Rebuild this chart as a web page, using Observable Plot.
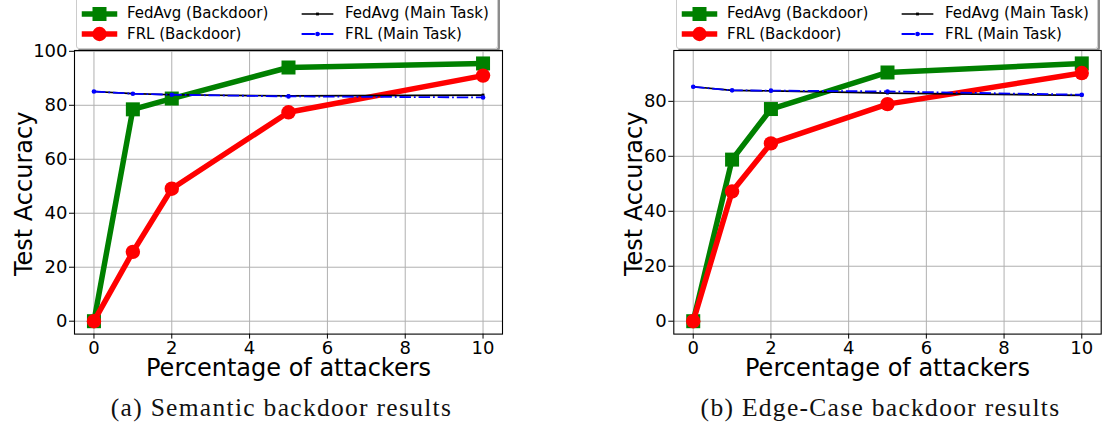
<!DOCTYPE html>
<html>
<head>
<meta charset="utf-8">
<script src="https://cdn.jsdelivr.net/npm/d3@7"></script>
<script src="https://cdn.jsdelivr.net/npm/@observablehq/plot@0.6"></script>
<style>
  html, body { margin: 0; padding: 0; background: #fff; }
  #root { position: relative; width: 1102px; height: 425px; overflow: hidden; font-family: "DejaVu Sans", sans-serif; }
  .panel { position: absolute; top: 0; }
  .legend { position: absolute; top: -10px; height: 59px; background: rgba(255,255,255,0.9);
            border: 1px solid #cccccc; border-radius: 3px; box-shadow: 2px 2px 0 rgba(0,0,0,0.45); box-sizing: border-box; }
  .lg-text { position: absolute; font-family: "DejaVu Sans", sans-serif; font-size: 15px; line-height: 20px; white-space: nowrap; color: #000; }
  .lg-sw { position: absolute; }
  .caption { position: absolute; top: 393px; font-family: "Liberation Serif", serif; font-size: 25.5px; line-height: 30px;
             letter-spacing: 1.3px; white-space: nowrap; transform: translateX(-50%); color: #111; }
</style>
</head>
<body>
<div id="root"></div>
<script>
// ---- data ----
const attackers = [0, 1, 2, 5, 10];
const xTicks = [0, 2, 4, 6, 8, 10];

// (a) Semantic backdoor
const semFedAvgBackdoor = [0, 78.5, 82.5, 94.0, 95.5];
const semFrlBackdoor    = [0, 25.7, 49.1, 77.4, 91.0];
const semFedAvgMain     = [85.1, 84.3, 83.9, 83.5, 83.8];
const semFrlMain        = [85.1, 84.3, 83.9, 83.3, 82.9];
const semYTicks = [0, 20, 40, 60, 80, 100];

// (b) Edge-case backdoor
const edgeFedAvgBackdoor = [0, 58.8, 77.2, 90.5, 93.8];
const edgeFrlBackdoor    = [0, 47.2, 64.7, 79.0, 90.3];
const edgeFedAvgMain     = [85.3, 84.0, 83.8, 83.0, 82.2];
const edgeFrlMain        = [85.3, 84.0, 83.9, 83.6, 82.4];
const edgeYTicks = [0, 20, 40, 60, 80];

const seriesNames = ["FedAvg (Backdoor)", "FRL (Backdoor)", "FedAvg (Main Task)", "FRL (Main Task)"];
const captions = ["(a) Semantic backdoor results", "(b) Edge-Case backdoor results"];
const xLabel = "Percentage of attackers";
const yLabel = "Test Accuracy";

// ---- styles ----
const styles = [
  {color: "green",   width: 5.5, symbol: "square", r: 7.9, dash: null},
  {color: "#ff0000", width: 5.5, symbol: "circle", r: 7.2, dash: null},
  {color: "#000000", width: 1.7, symbol: "square", r: 1.6, dash: null},
  {color: "#0000ff", width: 1.8, symbol: "circle", r: 2.3, dash: "11.5,2.9,1.8,2.9"}
];

const rows = arr => attackers.map((x, i) => ({x, y: arr[i]}));

function panel(cfg) {
  const marks = [
    Plot.gridX(xTicks, {stroke: "#b0b0b0", strokeOpacity: 1, strokeWidth: 1}),
    Plot.gridY(cfg.yTicks, {stroke: "#b0b0b0", strokeOpacity: 1, strokeWidth: 1}),
    Plot.axisX({ticks: xTicks, tickSize: 5, tickPadding: 2, fontSize: 18, label: null}),
    Plot.axisY({ticks: cfg.yTicks, tickSize: 5, tickPadding: 2, fontSize: 18, label: null})
  ];
  cfg.series.forEach((arr, i) => {
    const s = styles[i];
    const d = rows(arr);
    marks.push(Plot.line(d, {x: "x", y: "y", stroke: s.color, strokeWidth: s.width,
      strokeDasharray: s.dash, strokeLinejoin: "round", strokeLinecap: "butt"}));
    marks.push(Plot.dot(d, {x: "x", y: "y", symbol: s.symbol, r: s.r, fill: s.color, stroke: "none"}));
  });
  marks.push(Plot.frame({stroke: "#000", strokeWidth: 1.1}));
  marks.push(Plot.text([xLabel], {frameAnchor: "bottom", dy: 34.5, textAnchor: "middle", lineAnchor: "middle", fontSize: 24, fill: "#000"}));
  marks.push(Plot.text([yLabel], {frameAnchor: "left", dx: cfg.yLabelDx, dy: 1.5, rotate: -90, textAnchor: "middle", lineAnchor: "middle", fontSize: 24, fill: "#000"}));
  return Plot.plot({
    width: cfg.width,
    height: 385,
    marginLeft: cfg.marginLeft,
    marginRight: cfg.marginRight,
    marginTop: 50,
    marginBottom: 51.4,
    style: {fontFamily: "DejaVu Sans", fontSize: "18px", color: "#000", background: "transparent", overflow: "visible"},
    x: {domain: [-0.5, 10.5], axis: null},
    y: {domain: cfg.yDomain, axis: null},
    marks
  });
}

function legend(root, boxLeft, boxWidth) {
  const box = document.createElement("div");
  box.className = "legend";
  box.style.left = boxLeft + "px";
  box.style.width = boxWidth + "px";
  root.appendChild(box);
  const order = [[0,0],[0,1],[1,0],[1,1]]; // [col,row] for series 0..3
  const swLeft = [4, 222], txtLeft = [51, 269], rowY = [23.5, 44.3];
  seriesNames.forEach((name, i) => {
    const [c, r] = order[i];
    const s = styles[i];
    const sw = document.createElementNS("http://www.w3.org/2000/svg", "svg");
    sw.setAttribute("width", 40); sw.setAttribute("height", 20);
    sw.setAttribute("class", "lg-sw");
    sw.style.left = (swLeft[c] - 1) + "px";
    sw.style.top = (rowY[r] - 10 - 1) + "px";
    let html = `<line x1="4.5" x2="34.5" y1="10" y2="10" stroke="${s.color}" stroke-width="${s.width}" stroke-linecap="square"${s.dash ? ` stroke-dasharray="${s.dash}"` : ""}/>`;
    if (s.symbol === "square") {
      const a = s.r * Math.sqrt(Math.PI);
      html += `<rect x="${19.5 - a/2}" y="${10 - a/2}" width="${a}" height="${a}" fill="${s.color}"/>`;
    } else {
      html += `<circle cx="19.5" cy="10" r="${s.r}" fill="${s.color}"/>`;
    }
    sw.innerHTML = html;
    box.appendChild(sw);
    const t = document.createElement("div");
    t.className = "lg-text";
    t.textContent = name;
    t.style.left = (txtLeft[c] - 1) + "px";
    t.style.top = (rowY[r] - 10 - 1.2) + "px";
    box.appendChild(t);
  });
}

const root = document.getElementById("root");

const p1 = panel({
  series: [semFedAvgBackdoor, semFrlBackdoor, semFedAvgMain, semFrlMain],
  yTicks: semYTicks, yDomain: [-4.78, 100.3],
  width: 580, marginLeft: 74, marginRight: 78, yLabelDx: -49.7
});
p1.classList.add("panel"); p1.style.left = "0px";
root.appendChild(p1);

const p2 = panel({
  series: [edgeFedAvgBackdoor, edgeFrlBackdoor, edgeFedAvgMain, edgeFrlMain],
  yTicks: edgeYTicks, yDomain: [-4.69, 98.5],
  width: 522, marginLeft: 93.3, marginRight: 1.3, yLabelDx: -39
});
p2.classList.add("panel"); p2.style.left = "580px";
root.appendChild(p2);

legend(root, 76, 422);
legend(root, 676, 422);

[[281.5, captions[0]], [880.5, captions[1]]].forEach(([cx, text]) => {
  const c = document.createElement("div");
  c.className = "caption";
  c.style.left = cx + "px";
  c.textContent = text;
  root.appendChild(c);
});
</script>
</body>
</html>
